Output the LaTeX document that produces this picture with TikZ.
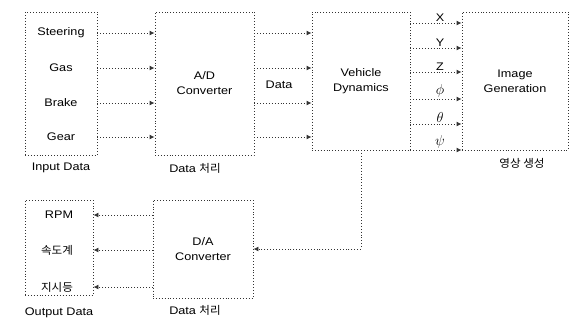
\documentclass[tikz,border=0pt]{standalone}
\usepackage{fontspec}
\setmainfont{Liberation Sans}[FakeStretch=1.15]
\newfontfamily\kr{Noto Sans CJK KR}[FakeStretch=1.05]
\usetikzlibrary{arrows.meta,calc}
\begin{document}
\begin{tikzpicture}[x=1pt,y=-1pt,
  box/.style={draw=black!80, dotted, line width=0.9pt, inner sep=0pt, align=center, font=\fontsize{11}{15}\selectfont},
  lbl/.style={font=\fontsize{11}{13}\selectfont, inner sep=1pt},
  grk/.style={font=\fontsize{14}{14}\selectfont, inner sep=1pt},
  conn/.style={draw=black!80, dotted, line width=0.9pt, -{Latex[length=5pt,width=5pt]}}]
\useasboundingbox (0,0) rectangle (571,325);
% blocks
\node[box, minimum width=72pt, minimum height=143pt] (inbox) at (61,83.5) {};
\node[box, minimum width=99pt, minimum height=143pt] (ad) at (204.5,83.5) {A/D\\Converter};
\node[box, minimum width=98pt, minimum height=138pt] (vd) at (361,81) {Vehicle\\Dynamics};
\node[box, minimum width=106pt, minimum height=138pt] (ig) at (515,81) {Image\\Generation};
\node[box, minimum width=68pt, minimum height=95pt] (outbox) at (59,247.5) {};
\node[box, minimum width=100pt, minimum height=98pt] (da) at (203,249) {D/A\\Converter};
% input labels
\node[lbl] (st) at (61,33) {Steering};
\node[lbl] (gas) at (61,68) {Gas};
\node[lbl] (br) at (61,103) {Brake};
\node[lbl] (ge) at (61,137) {Gear};
\node[lbl] (intitle) at (61,168) {Input Data};
\node[lbl] (adtitle) at (195,168) {Data {\kr 처리}};
\node[lbl] (igtitle) at (522,163) {\kr 영상 생성};
% output labels
\node[lbl] (rpm) at (59,215) {RPM};
\node[lbl] (spd) at (57,250) {\kr 속도계};
\node[lbl] (ind) at (57,287) {\kr 지시등};
\node[lbl] (outtitle) at (59,313) {Output Data};
\node[lbl] (datitle) at (195,310) {Data {\kr 처리}};
% input arrows
\foreach \n in {st,gas,br,ge}{
  \draw[conn] (inbox.east |- \n) -- (ad.west |- \n);
  \draw[conn] (ad.east |- \n) -- (vd.west |- \n);
}
\node[lbl] (data) at (279,85) {Data};
% state arrows
\coordinate (cx) at (0,23);
\coordinate (cy) at (0,48);
\coordinate (cz) at (0,72);
\coordinate (cphi) at (0,99);
\coordinate (cth) at (0,124);
\coordinate (cpsi) at (0,150);
\draw[conn] (vd.east |- cx) -- node[lbl, above, pos=0.58]{X} (ig.west |- cx);
\draw[conn] (vd.east |- cy) -- node[lbl, above, pos=0.58]{Y} (ig.west |- cy);
\draw[conn] (vd.east |- cz) -- node[lbl, above, pos=0.58]{Z} (ig.west |- cz);
\draw[conn] (vd.east |- cphi) -- node[grk, above, pos=0.58]{$\phi$} (ig.west |- cphi);
\draw[conn] (vd.east |- cth) -- node[grk, above, pos=0.58]{$\theta$} (ig.west |- cth);
\draw[conn] (vd.east |- cpsi) -- node[grk, above, pos=0.58]{$\psi$} (ig.west |- cpsi);
% output arrows
\foreach \n in {rpm,spd,ind}{
  \draw[conn] (da.west |- \n) -- (outbox.east |- \n);
}
\draw[conn] (vd.south) |- (da.east);
\end{tikzpicture}
\end{document}
